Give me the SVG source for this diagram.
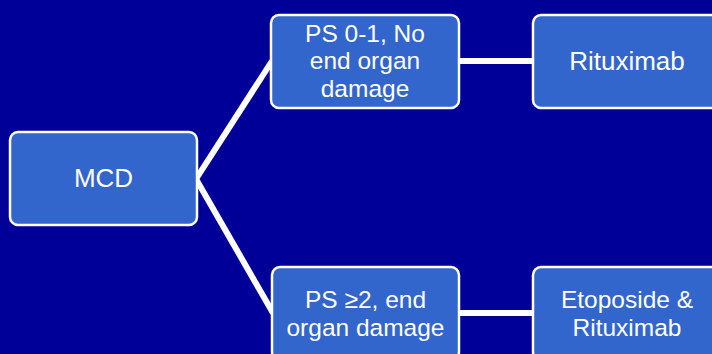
<svg xmlns="http://www.w3.org/2000/svg" width="712" height="354" viewBox="0 0 712 354">
<style>
.box{fill:#3366CC;stroke:#FFFFFF;stroke-width:2.5}
.t{font-family:"Liberation Sans",Arial,sans-serif;font-size:26px;fill:#FFFFFF;text-anchor:middle}
.m{font-size:24.5px}
.c{stroke:#FFFFFF;stroke-width:6;fill:none}
</style>
<rect x="0" y="0" width="712" height="354" fill="#000099"/>
<g id="connectors">
<line class="c" x1="196" y1="179" x2="272" y2="61"/>
<line class="c" x1="196" y1="179" x2="273" y2="313"/>
<line class="c" x1="459" y1="61" x2="534" y2="61"/>
<line class="c" x1="459" y1="313" x2="534" y2="313"/>
</g>
<g id="mcd">
<rect class="box" x="10" y="132" width="187" height="93" rx="8"/>
<text class="t" x="103.5" y="187">MCD</text>
</g>
<g id="ps01">
<rect class="box" x="271" y="15" width="188" height="93" rx="8"/>
<text class="t m" x="365" y="41.5"><tspan x="365">PS 0-1, No</tspan><tspan x="365" dy="27.5">end organ</tspan><tspan x="365" dy="27.5">damage</tspan></text>
</g>
<g id="rituximab">
<rect class="box" x="533" y="15" width="188" height="93" rx="8"/>
<text class="t" x="627" y="70">Rituximab</text>
</g>
<g id="ps2">
<rect class="box" x="272" y="267" width="187" height="93" rx="8"/>
<text class="t m" x="365.5" y="308"><tspan x="365.5">PS ≥2, end</tspan><tspan x="365.5" dy="27.5">organ damage</tspan></text>
</g>
<g id="etoposide">
<rect class="box" x="533" y="267" width="188" height="93" rx="8"/>
<text class="t m" x="627" y="308"><tspan x="627">Etoposide &amp;</tspan><tspan x="627" dy="27.5">Rituximab</tspan></text>
</g>
</svg>
